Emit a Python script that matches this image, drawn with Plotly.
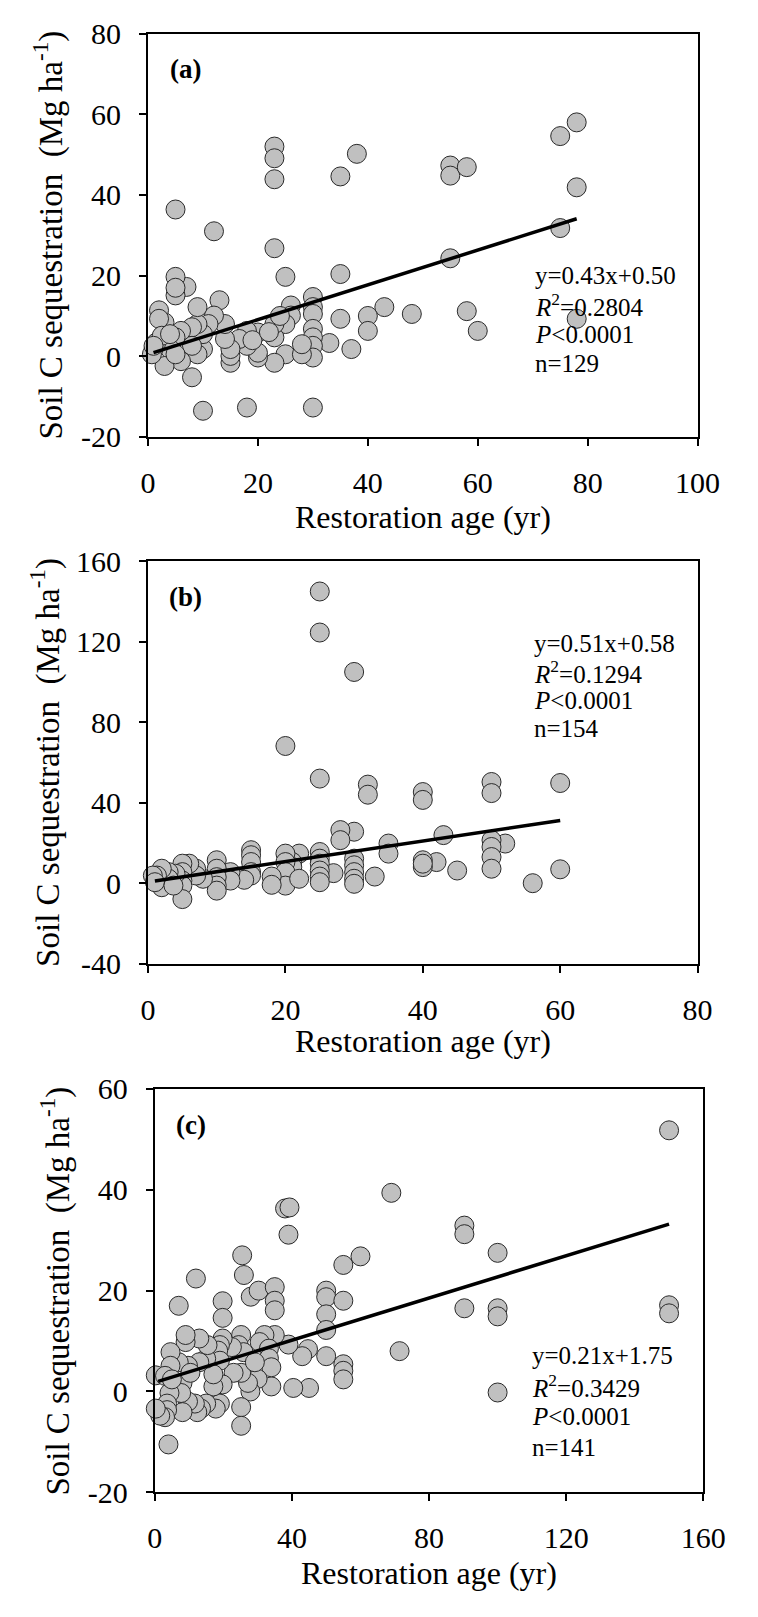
import plotly.graph_objects as go

# panel (a)
a_age = [5, 12, 23, 23, 23, 23, 25, 35, 38, 35, 55, 55, 58, 55, 75, 78, 78, 75, 78,
         60, 58, 48, 43, 40, 40, 37, 33, 35, 30, 30, 30, 30, 30, 30, 30, 30, 18, 10,
         8, 26, 26, 25, 25, 23, 23, 23, 20, 20, 20, 18, 18, 16.6, 15, 15, 15, 14, 14,
         13, 12, 11, 10, 10, 9, 9, 9, 8, 8, 7, 5, 5, 5, 6, 6, 5, 4, 3, 3, 2, 2, 1.5,
         1, 0.7, 2.5, 4, 5, 1, 28, 28, 19, 24, 22]
a_seq = [36.4, 31, 52, 49.1, 43.9, 26.8, 19.7, 44.6, 50.2, 20.4, 47.3, 44.8, 46.9,
         24.3, 54.6, 58, 41.9, 31.8, 9.3, 6.3, 11.2, 10.5, 12.2, 10, 6.3, 1.8, 3.3,
         9.3, 14.7, 12.2, 10.5, 6.8, 4.7, 2.6, -0.3, -12.7, -12.7, -13.5, -5.2, 12.6,
         10.1, 8, 0.5, -1.6, 4.7, 8, 5.9, -0.3, 0.9, 2.6, 6.3, 4.3, -1.6, 0.1, 1.8,
         4.3, 8, 13.9, 10.1, 8, 1.8, 5.5, 8, 12.2, 0.5, 7.2, 2.6, 17.2, 19.7, 15.1, 17,
         6.3, -1.2, 4.7, 1.8, -2.4, 8.4, 11.4, 9.3, 3.4, 1.8, 0.5, 5.1, 5.5, 0.5, 2.6,
         0.5, 3, 4, 10, 6]
a_fit_x = [1, 78]
a_fit_y = [0.9, 34.1]

# panel (b)
b_age = [25, 25, 30, 20, 25, 32, 32, 40, 40, 50, 50, 60, 60, 56, 52, 50, 50, 50, 50,
         45, 43, 42, 40, 40, 40, 35, 35, 33, 30, 30, 30, 30, 30, 30, 28, 28, 27, 25,
         25, 25, 25, 25, 25, 22, 21, 21, 20, 20, 20, 20, 22, 18, 18, 15, 15, 15, 15,
         15, 14, 12, 12, 10, 10, 10, 10, 10, 8, 7, 7, 6, 5, 5, 5, 5, 5, 4, 3, 3, 2, 2,
         1.3, 0.7, 1, 3.7]
b_seq = [145, 124.6, 105, 68.2, 52, 49, 44, 45.3, 41.4, 50.3, 44.8, 49.8, 6.9, 0,
         19.7, 21.4, 18, 13, 7.2, 6.3, 23.9, 10.5, 11.4, 8, 9.7, 19.7, 14.7, 3.3, 25.6,
         12.2, 8.9, 5.5, 2.2, -0.3, 26.4, 21.4, 5, 15.5, 12.2, 9.7, 6.3, 3.3, 0.5, 14.7,
         10.5, 8, 14.7, 10.5, 5.5, -1.2, 2.2, 3.3, -0.8, 16.4, 13.9, 10.5, 5.5, 3.8,
         1.7, 5.5, 1.3, 11.4, 7.2, 3, -1.2, -3.7, 2.2, 7.2, 3.8, 9.7, 9.7, 5.5, 1.3,
         -1.2, -7.9, 4.7, 5.5, 2.2, 7.2, -2, 3.8, 3.8, 0.5, -1.2]
b_fit_x = [1, 60]
b_fit_y = [1.1, 31.2]

# panel (c)
c_age = [150, 69, 38, 39.3, 39, 90.3, 90.3, 100, 60, 55, 25.5, 26, 12, 7, 19.8, 19.8,
         28, 30.3, 35, 35, 35, 50, 50, 50, 50, 55, 90.3, 100, 100, 150, 150, 100, 71.4,
         50, 55, 55, 55, 45, 40.4, 34, 44.7, 43, 39, 35, 32, 30.6, 33.3, 33.3, 34, 30,
         27.9, 27.2, 25.2, 25.2, 25.2, 25.2, 24.5, 25.9, 29.2, 22.5, 23, 19.8, 19, 18.5,
         19, 19.8, 19, 17.8, 17.1, 17.1, 15, 15.4, 15, 13.5, 12.4, 13, 13, 11.7, 9.7, 9,
         9, 9.7, 8.1, 7.7, 8.1, 7, 4.6, 4.6, 4.3, 3.6, 3.6, 3, 1.6, 0.3, 0.3, 4, 3, 5,
         10.4]
c_seq = [51.8, 39.4, 36.3, 36.5, 31.1, 32.9, 31.2, 27.5, 26.8, 25.1, 27, 23.1, 22.4,
         17, 17.9, 14.6, 18.8, 20, 20.7, 18, 16.1, 20, 18.7, 15.3, 12.2, 18, 16.5, 16.5,
         14.9, 17.1, 15.5, -0.2, 8, 7, 5.4, 4.1, 2.4, 0.7, 0.7, 1, 8.4, 7, 9.3, 11.2,
         11.2, 9.8, 8.5, 6.6, 4.8, 2.5, 0, 1.7, -3.1, -6.8, 3.7, 11.2, 9.2, 7.8, 5.8,
         8.8, 3.7, 10.5, 9.2, 8.1, 6.1, 1.4, -2.4, -3.4, 1, 3.4, 6.5, 9.2, -2.4, -3.4,
         -4.1, 5.8, 10.5, -2.4, -2, 9.8, 11.2, 5.1, 1.7, -0.3, -4.1, 5.8, 7.8, 5.1, -0.3,
         -2.4, -3.7, -5.1, -4.8, -3.4, 3.2, -10.5, 3.1, 2.4, 3.7]
c_fit_x = [1, 150]
c_fit_y = [2.0, 33.2]

# tick values / labels (hyphen minus as in the original)
a_xticks = [0, 20, 40, 60, 80, 100]
a_yticks = [-20, 0, 20, 40, 60, 80]
b_xticks = [0, 20, 40, 60, 80]
b_yticks = [-40, 0, 40, 80, 120, 160]
c_xticks = [0, 40, 80, 120, 160]
c_yticks = [-20, 0, 20, 40, 60]

panels = [
    ("(a)", a_age, a_seq, a_fit_x, a_fit_y,
     ["y=0.43x+0.50", "<i>R</i><sup>2</sup>=0.2804", "<i>P</i>&lt;0.0001", "n=129"],
     a_xticks, a_yticks),
    ("(b)", b_age, b_seq, b_fit_x, b_fit_y,
     ["y=0.51x+0.58", "<i>R</i><sup>2</sup>=0.1294", "<i>P</i>&lt;0.0001", "n=154"],
     b_xticks, b_yticks),
    ("(c)", c_age, c_seq, c_fit_x, c_fit_y,
     ["y=0.21x+1.75", "<i>R</i><sup>2</sup>=0.3429", "<i>P</i>&lt;0.0001", "n=141"],
     c_xticks, c_yticks),
]

W, H = 758, 1617
# pixel boxes: left, right, top, bottom
boxes = [(146, 719, 17, 429), (146, 719, 556, 967), (153, 725, 1095, 1507)]
label_pos = [(167, 53), (166, 592), (173, 1132)]
stat_x = [547, 546, 544]
stat_y = [[264, 294, 324, 354], [640, 669, 698, 727], [1367, 1398, 1430, 1461]]
xtitle_y = [511, 1046, 1589]
ytitle_x = [42, 39, 50]

FONT = "Liberation Serif, Times New Roman, serif"


def tick_text(vals):
    return [str(v) for v in vals]


fig = go.Figure()
annotations = []
layout = {}

for i, (lab, xs, ys, fx, fy, stats, xt, yt) in enumerate(panels):
    n = "" if i == 0 else str(i + 1)
    l, r, t, b = boxes[i]
    fig.add_trace(go.Scatter(
        x=xs, y=ys, mode="markers", xaxis="x" + n, yaxis="y" + n,
        marker=dict(size=19, color="#c0c0c0", line=dict(color="#2a2a2a", width=1)),
        cliponaxis=False, showlegend=False,
    ))
    fig.add_trace(go.Scatter(
        x=fx, y=fy, mode="lines", xaxis="x" + n, yaxis="y" + n,
        line=dict(color="black", width=3.5), showlegend=False,
    ))
    axis_common = dict(
        showline=True, linecolor="black", linewidth=2, mirror=True,
        ticks="outside", ticklen=7, tickwidth=2, tickcolor="black",
        showgrid=False, zeroline=False, tickmode="array",
        tickfont=dict(family=FONT, size=30, color="black"),
    )
    layout["xaxis" + n] = dict(
        axis_common, domain=[l / W, r / W], range=[xt[0], xt[-1]],
        tickvals=xt, ticktext=tick_text(xt),
        anchor="y" + n, ticklabelstandoff=11,
    )
    layout["yaxis" + n] = dict(
        axis_common, domain=[1 - b / H, 1 - t / H], range=[yt[0], yt[-1]],
        tickvals=yt, ticktext=tick_text(yt),
        anchor="x" + n, ticklabelstandoff=12,
    )
    annotations.append(dict(
        text="<b>" + lab + "</b>", x=label_pos[i][0] / W, y=1 - label_pos[i][1] / H,
        xref="paper", yref="paper", xanchor="left", yanchor="middle",
        showarrow=False, font=dict(family=FONT, size=27, color="black"),
    ))
    for line, sy in zip(stats, stat_y[i]):
        annotations.append(dict(
            text=line, x=stat_x[i] / W, y=1 - sy / H,
            xref="paper", yref="paper", xanchor="left", yanchor="middle",
            showarrow=False, font=dict(family=FONT, size=25, color="black"),
        ))
    annotations.append(dict(
        text="Restoration age (yr)", x=(l + r) / 2 / W, y=1 - xtitle_y[i] / H,
        xref="paper", yref="paper", xanchor="center", yanchor="middle",
        showarrow=False, font=dict(family=FONT, size=32, color="black"),
    ))
    annotations.append(dict(
        text="Soil C sequestration\u00a0 (Mg ha<sup>-1</sup>)",
        x=ytitle_x[i] / W, y=1 - (t + b) / 2 / H, textangle=-90,
        xref="paper", yref="paper", xanchor="center", yanchor="middle",
        showarrow=False, font=dict(family=FONT, size=33, color="black"),
    ))

fig.update_layout(
    width=W, height=H,
    margin=dict(l=0, r=0, t=0, b=0),
    paper_bgcolor="white", plot_bgcolor="white",
    annotations=annotations,
    **layout,
)

# drop the browser's default 8px body margin so the figure sits at the page origin
fig.write_html(
    "out.html",
    config={"displayModeBar": False},
    post_script="document.body.style.margin = '0';",
)
